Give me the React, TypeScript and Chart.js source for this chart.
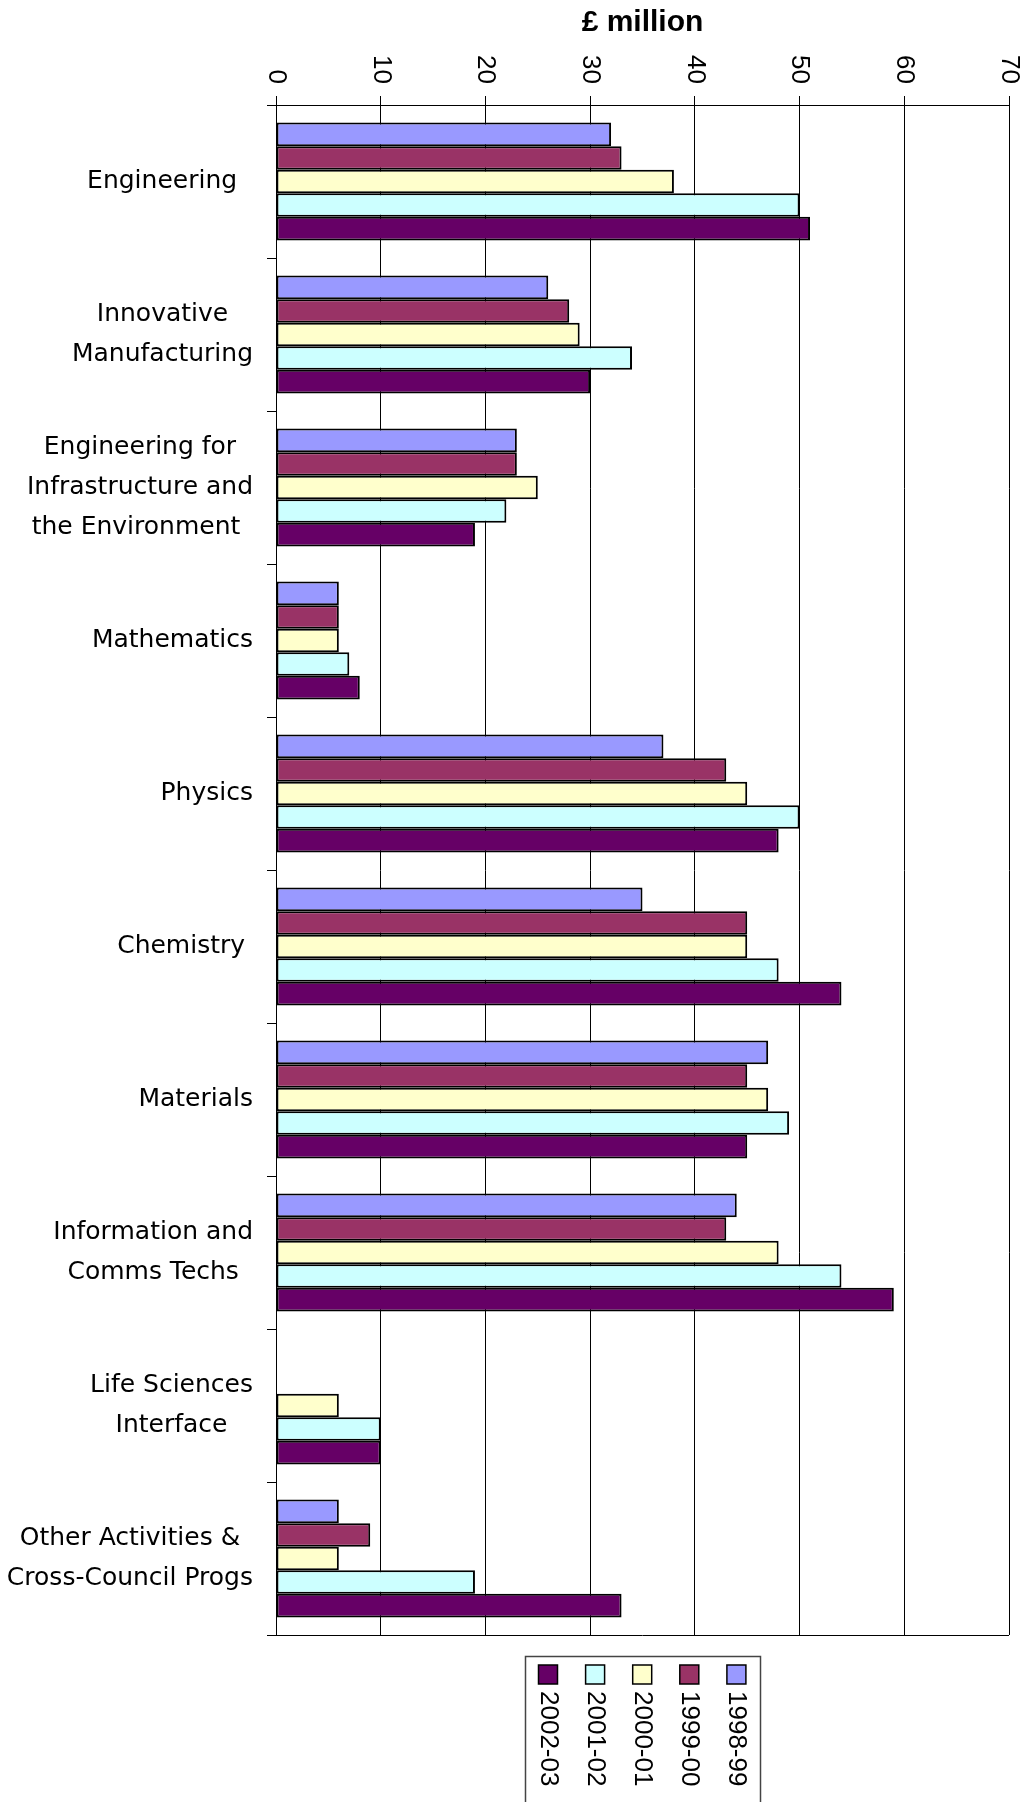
import React, { useEffect, useRef } from 'react';
import { Chart, registerables } from 'chart.js';

Chart.register(...registerables);

// Research programme areas (multi-line labels)
const categories: string[][] = [
  ['Engineering  '],
  ['Innovative', 'Manufacturing'],
  ['Engineering for', 'Infrastructure and', 'the Environment '],
  ['Mathematics'],
  ['Physics'],
  ['Chemistry '],
  ['Materials'],
  ['Information and', 'Comms Techs'],
  ['Life Sciences', 'Interface'],
  ['Other Activities &', 'Cross-Council Progs'],
];

const seriesNames = ['1998-99', '1999-00', '2000-01', '2001-02', '2002-03'];
const seriesColors = ['#9999FF', '#993366', '#FFFFCC', '#CCFFFF', '#660066'];

// Spend per year, £ million
const spend9899 = [32, 26, 23, 6, 37, 35, 47, 44, null, 6];
const spend9900 = [33, 28, 23, 6, 43, 45, 45, 43, null, 9];
const spend0001 = [38, 29, 25, 6, 45, 45, 47, 48, 6, 6];
const spend0102 = [50, 34, 22, 7, 50, 48, 49, 54, 10, 19];
const spend0203 = [51, 30, 19, 8, 48, 54, 45, 59, 10, 33];

const xTicks = [0, 10, 20, 30, 40, 50, 60, 70];
const axisTitle = '£ million';

const LABEL_FONT = '25px "DejaVu Sans", sans-serif';
const TICK_FONT = '26px "Liberation Sans", Arial, sans-serif';
const TITLE_FONT = 'bold 30px "Liberation Sans", Arial, sans-serif';

const decorPlugin = {
  id: 'decor',
  afterDraw(chart: any) {
    const { ctx, chartArea } = chart;
    const xs = chart.scales.x;
    const ys = chart.scales.y;
    ctx.save();

    // bottom border of the plot area
    ctx.strokeStyle = '#000';
    ctx.lineWidth = 1;
    ctx.beginPath();
    ctx.moveTo(chartArea.left, Math.round(chartArea.bottom) + 0.5);
    ctx.lineTo(chartArea.right, Math.round(chartArea.bottom) + 0.5);
    ctx.stroke();

    // axis title
    ctx.fillStyle = '#000';
    ctx.font = TITLE_FONT;
    ctx.textAlign = 'center';
    ctx.textBaseline = 'alphabetic';
    ctx.fillText(axisTitle, (chartArea.left + chartArea.right) / 2, 31);

    // value-axis tick labels, turned to read downwards
    ctx.font = TICK_FONT;
    xTicks.forEach((v) => {
      const px = xs.getPixelForValue(v);
      ctx.save();
      ctx.translate(px, 84);
      ctx.rotate(Math.PI / 2);
      ctx.textAlign = 'right';
      ctx.textBaseline = 'middle';
      ctx.fillText(String(v), 0, 0);
      ctx.restore();
    });

    // category labels, lines centred within each block
    ctx.font = LABEL_FONT;
    ctx.textAlign = 'center';
    ctx.textBaseline = 'middle';
    const lineH = 40;
    const rightEdge = chartArea.left - 23;
    (chart.data.labels as string[][]).forEach((lines, i) => {
      const cy = ys.getPixelForValue(i);
      const w = Math.max(...lines.map((l) => ctx.measureText(l).width));
      const cx = rightEdge - w / 2;
      lines.forEach((line, j) => {
        const y = cy + (j - (lines.length - 1) / 2) * lineH;
        ctx.fillText(line, cx, y);
      });
    });

    // legend box below the plot
    const boxL = 525.5;
    const boxR = 760.5;
    const boxT = 1656.5;
    ctx.strokeStyle = '#444';
    ctx.lineWidth = 1.5;
    ctx.strokeRect(boxL, boxT, boxR - boxL, 200);
    const ds = chart.data.datasets;
    const order = ds.map((_: any, i: number) => i).reverse();
    order.forEach((di: number, k: number) => {
      const cx = 548 + k * 47.1;
      ctx.fillStyle = ds[di].backgroundColor;
      ctx.fillRect(cx - 9.5, 1665, 19, 19);
      ctx.strokeStyle = '#000';
      ctx.lineWidth = 1.5;
      ctx.strokeRect(cx - 9.5, 1665, 19, 19);
      ctx.save();
      ctx.translate(cx, 1691);
      ctx.rotate(Math.PI / 2);
      ctx.fillStyle = '#000';
      ctx.font = TICK_FONT;
      ctx.textAlign = 'left';
      ctx.textBaseline = 'middle';
      ctx.fillText(ds[di].label, 0, 0);
      ctx.restore();
    });

    ctx.restore();
  },
};

export default function App() {
  const canvasRef = useRef<HTMLCanvasElement | null>(null);

  useEffect(() => {
    const canvas = canvasRef.current;
    if (!canvas) return;
    const seriesData = [spend9899, spend9900, spend0001, spend0102, spend0203];
    const chart = new Chart(canvas, {
      type: 'bar',
      data: {
        labels: categories,
        datasets: seriesNames.map((name, i) => ({
          label: name,
          data: seriesData[i],
          backgroundColor: seriesColors[i],
          borderColor: '#000',
          borderWidth: 2,
          borderSkipped: false,
          categoryPercentage: 0.77,
          barPercentage: 1.0,
        })),
      },
      options: {
        indexAxis: 'y',
        responsive: false,
        animation: false,
        devicePixelRatio: 1,
        layout: { padding: { top: 0, left: 0, right: 17, bottom: 167 } },
        plugins: {
          legend: { display: false },
          title: { display: false },
          tooltip: { enabled: false },
        },
        scales: {
          x: {
            type: 'linear',
            position: 'top',
            min: 0,
            max: 70,
            ticks: { display: false, stepSize: 10 },
            grid: { color: '#000', lineWidth: 1, drawTicks: true, tickLength: 9 },
            border: { display: true, color: '#000', width: 1 },
            afterFit: (s: any) => {
              s.height = 105;
            },
          },
          y: {
            type: 'category',
            position: 'left',
            ticks: { display: false },
            grid: {
              display: true,
              drawOnChartArea: false,
              drawTicks: true,
              tickLength: 9,
              color: '#000',
              offset: true,
            },
            border: { display: true, color: '#000', width: 1 },
            afterFit: (s: any) => {
              s.width = 276;
            },
          },
        },
      },
      plugins: [decorPlugin],
    });
    return () => chart.destroy();
  }, []);

  return (
    <div style={{ position: 'absolute', left: 0, top: 0, width: 1026, height: 1802, background: '#fff' }}>
      <canvas ref={canvasRef} width={1026} height={1802} style={{ display: 'block' }} />
    </div>
  );
}
